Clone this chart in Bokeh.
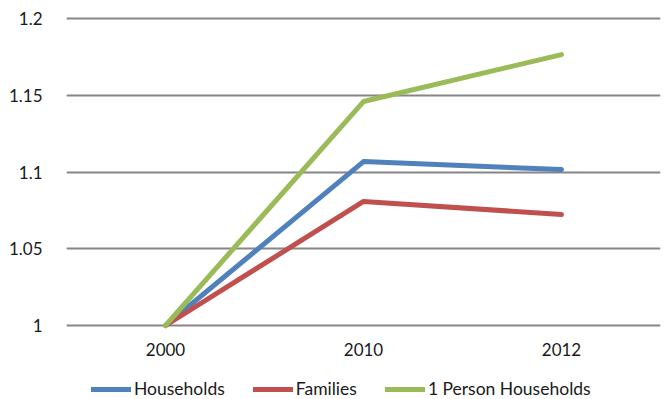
from bokeh.plotting import figure
from bokeh.layouts import column
from bokeh.models import FactorRange, Range1d, FixedTicker, NumeralTickFormatter, Legend, LegendItem
from bokeh.embed import file_html
from bokeh.resources import INLINE

years = ["2000", "2010", "2012"]
households = [1.0, 1.1068, 1.1016]
families = [1.0, 1.0808, 1.0723]
one_person = [1.0, 1.1459, 1.1765]
y_ticks = [1.0, 1.05, 1.1, 1.15, 1.2]
series_names = ["Households", "Families", "1 Person Households"]
series_values = [households, families, one_person]
series_colors = ["#4F81BD", "#C0504D", "#9BBB59"]

FONT = "Lato"
x_range = FactorRange(*years, range_padding=0)
p = figure(width=667, height=362, x_range=x_range,
           y_range=Range1d(0.997394, 1.202606),
           output_backend="svg", toolbar_location=None,
           min_border_left=66, min_border_right=7, min_border_top=14, min_border_bottom=33)
p.outline_line_color = None

for vals, col in zip(series_values, series_colors):
    p.line(years, vals, line_color=col, line_width=5, line_cap="round", line_join="round")

p.xgrid.grid_line_color = None
p.ygrid.grid_line_color = "#868686"
p.ygrid.grid_line_width = 2
p.yaxis.ticker = FixedTicker(ticks=y_ticks)
p.yaxis.formatter = NumeralTickFormatter(format="0.[00]")
for ax in (p.xaxis[0], p.yaxis[0]):
    ax.axis_line_color = None
    ax.major_tick_line_color = None
    ax.minor_tick_line_color = None
    ax.major_label_text_font = FONT
    ax.major_label_text_font_size = "17px"
    ax.major_label_text_color = "#1a1a1a"
p.yaxis.major_label_standoff = 18
p.xaxis.major_label_standoff = 7

# legend strip below the chart (same series, drawn outside its visible range)
lf = figure(width=667, height=37, x_range=x_range, y_range=Range1d(10, 11),
            x_axis_type=None, y_axis_type=None,
            output_backend="svg", toolbar_location=None,
            min_border_left=0, min_border_right=0, min_border_top=0, min_border_bottom=0)
lf.outline_line_color = None
lf.xgrid.visible = False
lf.ygrid.visible = False
items = []
for name, vals, col in zip(series_names, series_values, series_colors):
    r = lf.line(years, vals, line_color=col, line_width=5, line_cap="round")
    items.append(LegendItem(label=name, renderers=[r]))
legend = Legend(items=items, orientation="horizontal", location=(25, 0),
                border_line_color=None, background_fill_alpha=0,
                glyph_width=40, glyph_height=16, label_height=16, label_standoff=3, spacing=28,
                padding=0, margin=0, label_text_font=FONT, label_text_font_size="17.5px",
                label_text_color="#1a1a1a")
lf.add_layout(legend)

layout = column(p, lf, spacing=0)
open("out.html", "w").write(file_html(layout, INLINE))
